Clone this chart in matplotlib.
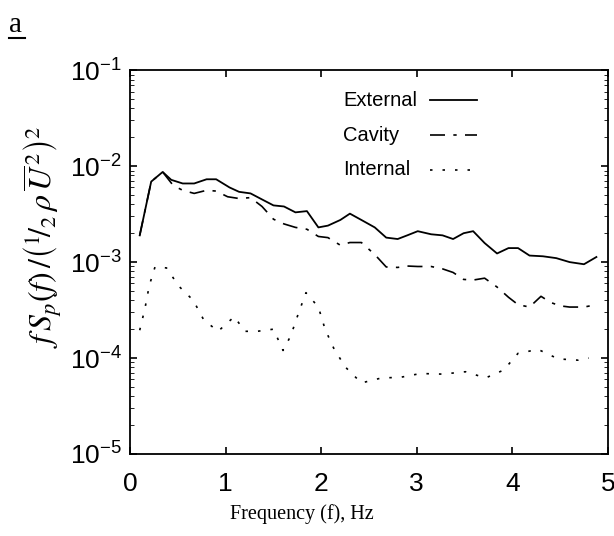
# pressure spectra: external, cavity, internal
import numpy as np
import matplotlib.pyplot as plt
from matplotlib.lines import Line2D

plt.rcParams['font.family'] = 'Liberation Sans'
plt.rcParams['mathtext.fontset'] = 'custom'
plt.rcParams['mathtext.rm'] = 'Liberation Sans'
plt.rcParams['mathtext.it'] = 'Liberation Sans:italic'

# frequency (Hz) and normalised spectra
f_ext = [0.10, 0.22, 0.34, 0.43, 0.55, 0.67, 0.80, 0.90, 1.04, 1.14, 1.26, 1.38,
         1.50, 1.61, 1.73, 1.85, 1.97, 2.07, 2.20, 2.30, 2.42, 2.56, 2.68, 2.80,
         2.90, 3.01, 3.15, 3.27, 3.38, 3.49, 3.59, 3.71, 3.84, 3.96, 4.06, 4.18,
         4.32, 4.46, 4.60, 4.75, 4.88]
external = [1.9e-3, 6.9e-3, 8.7e-3, 7.2e-3, 6.6e-3, 6.6e-3, 7.3e-3, 7.3e-3, 6.0e-3,
            5.4e-3, 5.2e-3, 4.5e-3, 3.9e-3, 3.8e-3, 3.3e-3, 3.4e-3, 2.3e-3, 2.4e-3,
            2.75e-3, 3.2e-3, 2.75e-3, 2.3e-3, 1.8e-3, 1.74e-3, 1.9e-3, 2.1e-3,
            1.95e-3, 1.9e-3, 1.74e-3, 2.0e-3, 2.1e-3, 1.58e-3, 1.23e-3, 1.4e-3,
            1.4e-3, 1.17e-3, 1.15e-3, 1.1e-3, 1.0e-3, 9.5e-4, 1.13e-3]

f_cav = [0.10, 0.22, 0.34, 0.45, 0.55, 0.67, 0.80, 0.90, 1.02, 1.14, 1.26, 1.38,
         1.50, 1.61, 1.73, 1.85, 1.97, 2.07, 2.20, 2.30, 2.42, 2.56, 2.68, 2.80,
         2.90, 3.01, 3.15, 3.27, 3.38, 3.49, 3.59, 3.71, 3.84, 3.96, 4.06, 4.18,
         4.30, 4.40, 4.50, 4.60, 4.75, 4.88]
cavity = [1.9e-3, 6.9e-3, 8.7e-3, 6.3e-3, 5.6e-3, 5.2e-3, 5.6e-3, 5.5e-3, 4.8e-3,
          4.6e-3, 4.7e-3, 3.8e-3, 2.8e-3, 2.5e-3, 2.3e-3, 2.2e-3, 1.85e-3, 1.8e-3,
          1.5e-3, 1.6e-3, 1.6e-3, 1.2e-3, 8.9e-4, 8.8e-4, 9.1e-4, 9.0e-4, 9.0e-4,
          8.5e-4, 7.8e-4, 6.6e-4, 6.5e-4, 6.8e-4, 5.5e-4, 4.3e-4, 3.6e-4, 3.4e-4,
          4.4e-4, 3.8e-4, 3.5e-4, 3.4e-4, 3.4e-4, 3.6e-4]

f_int = [0.10, 0.155, 0.20, 0.26, 0.38, 0.51, 0.66, 0.77, 0.92, 1.09, 1.20, 1.33,
         1.50, 1.60, 1.68, 1.76, 1.84, 1.97, 2.04, 2.13, 2.25, 2.42, 2.63, 2.83,
         3.04, 3.27, 3.51, 3.72, 3.91, 4.06, 4.27, 4.48, 4.69, 4.80]
internal = [1.95e-4, 3.3e-4, 5.7e-4, 8.9e-4, 8.7e-4, 5.6e-4, 4.0e-4, 2.5e-4, 1.9e-4,
            2.7e-4, 1.9e-4, 1.9e-4, 2.0e-4, 1.2e-4, 1.7e-4, 2.9e-4, 4.8e-4, 3.4e-4,
            2.0e-4, 1.27e-4, 8.1e-5, 5.5e-5, 6.2e-5, 6.3e-5, 6.9e-5, 6.8e-5, 7.2e-5,
            6.2e-5, 7.5e-5, 1.12e-4, 1.23e-4, 9.8e-5, 9.5e-5, 1.0e-4]

labels = ['External', 'Cavity', 'Internal']
styles = [dict(lw=1.3), dict(lw=1.2, dashes=(9, 5, 2, 5)), dict(lw=1.2, dashes=(1.5, 6))]

fig = plt.figure(figsize=(6.14, 5.36), dpi=100)
ax = fig.add_axes([0.212, 0.153, 0.778, 0.716])

for fx, vals, st in zip([f_ext, f_cav, f_int], [external, cavity, internal], styles):
    ax.plot(fx, vals, color='black', **st)

ax.set_yscale('log')
ax.set_xlim(0, 5)
ax.set_ylim(1e-5, 1e-1)
ax.set_xticks([0, 1, 2, 3, 4, 5])
ax.tick_params(which='both', direction='in', top=True, right=True, labelsize=19)
ax.tick_params(which='major', length=5, width=1.2)
ax.tick_params(which='minor', length=3)
ax.tick_params(axis='x', pad=13)
ax.tick_params(axis='y', pad=6)
for s in ax.spines.values():
    s.set_linewidth(1.3)

ax.set_xlabel('Frequency (f), Hz', family='Liberation Serif', fontsize=14.5)
ax.xaxis.set_label_coords(0.36, -0.13)
ax.set_ylabel(r'$f\,S_p(f)\,/\left({}^{1}\!/_{2}\,\rho\,\overline{U}^{\,2}\right)^2$',
              fontsize=23, math_fontfamily='stix')
ax.yaxis.set_label_coords(-0.138, 0.565)

# legend: label on the left, line sample on the right
for i, (lab, st) in enumerate(zip(labels, styles)):
    y = 0.922 - i * 0.091
    ax.text(0.446, y, lab, transform=ax.transAxes, fontsize=14.5, va='center')
    ax.add_line(Line2D([0.628, 0.726], [y, y], transform=ax.transAxes, color='black', **st))

# panel letter with underline
fig.text(0.014, 0.94, 'a', family='Liberation Serif', fontsize=21)
fig.add_artist(Line2D([0.014, 0.040], [0.93, 0.93], color='black', lw=1.5))

fig.savefig('out.png', dpi=100)
